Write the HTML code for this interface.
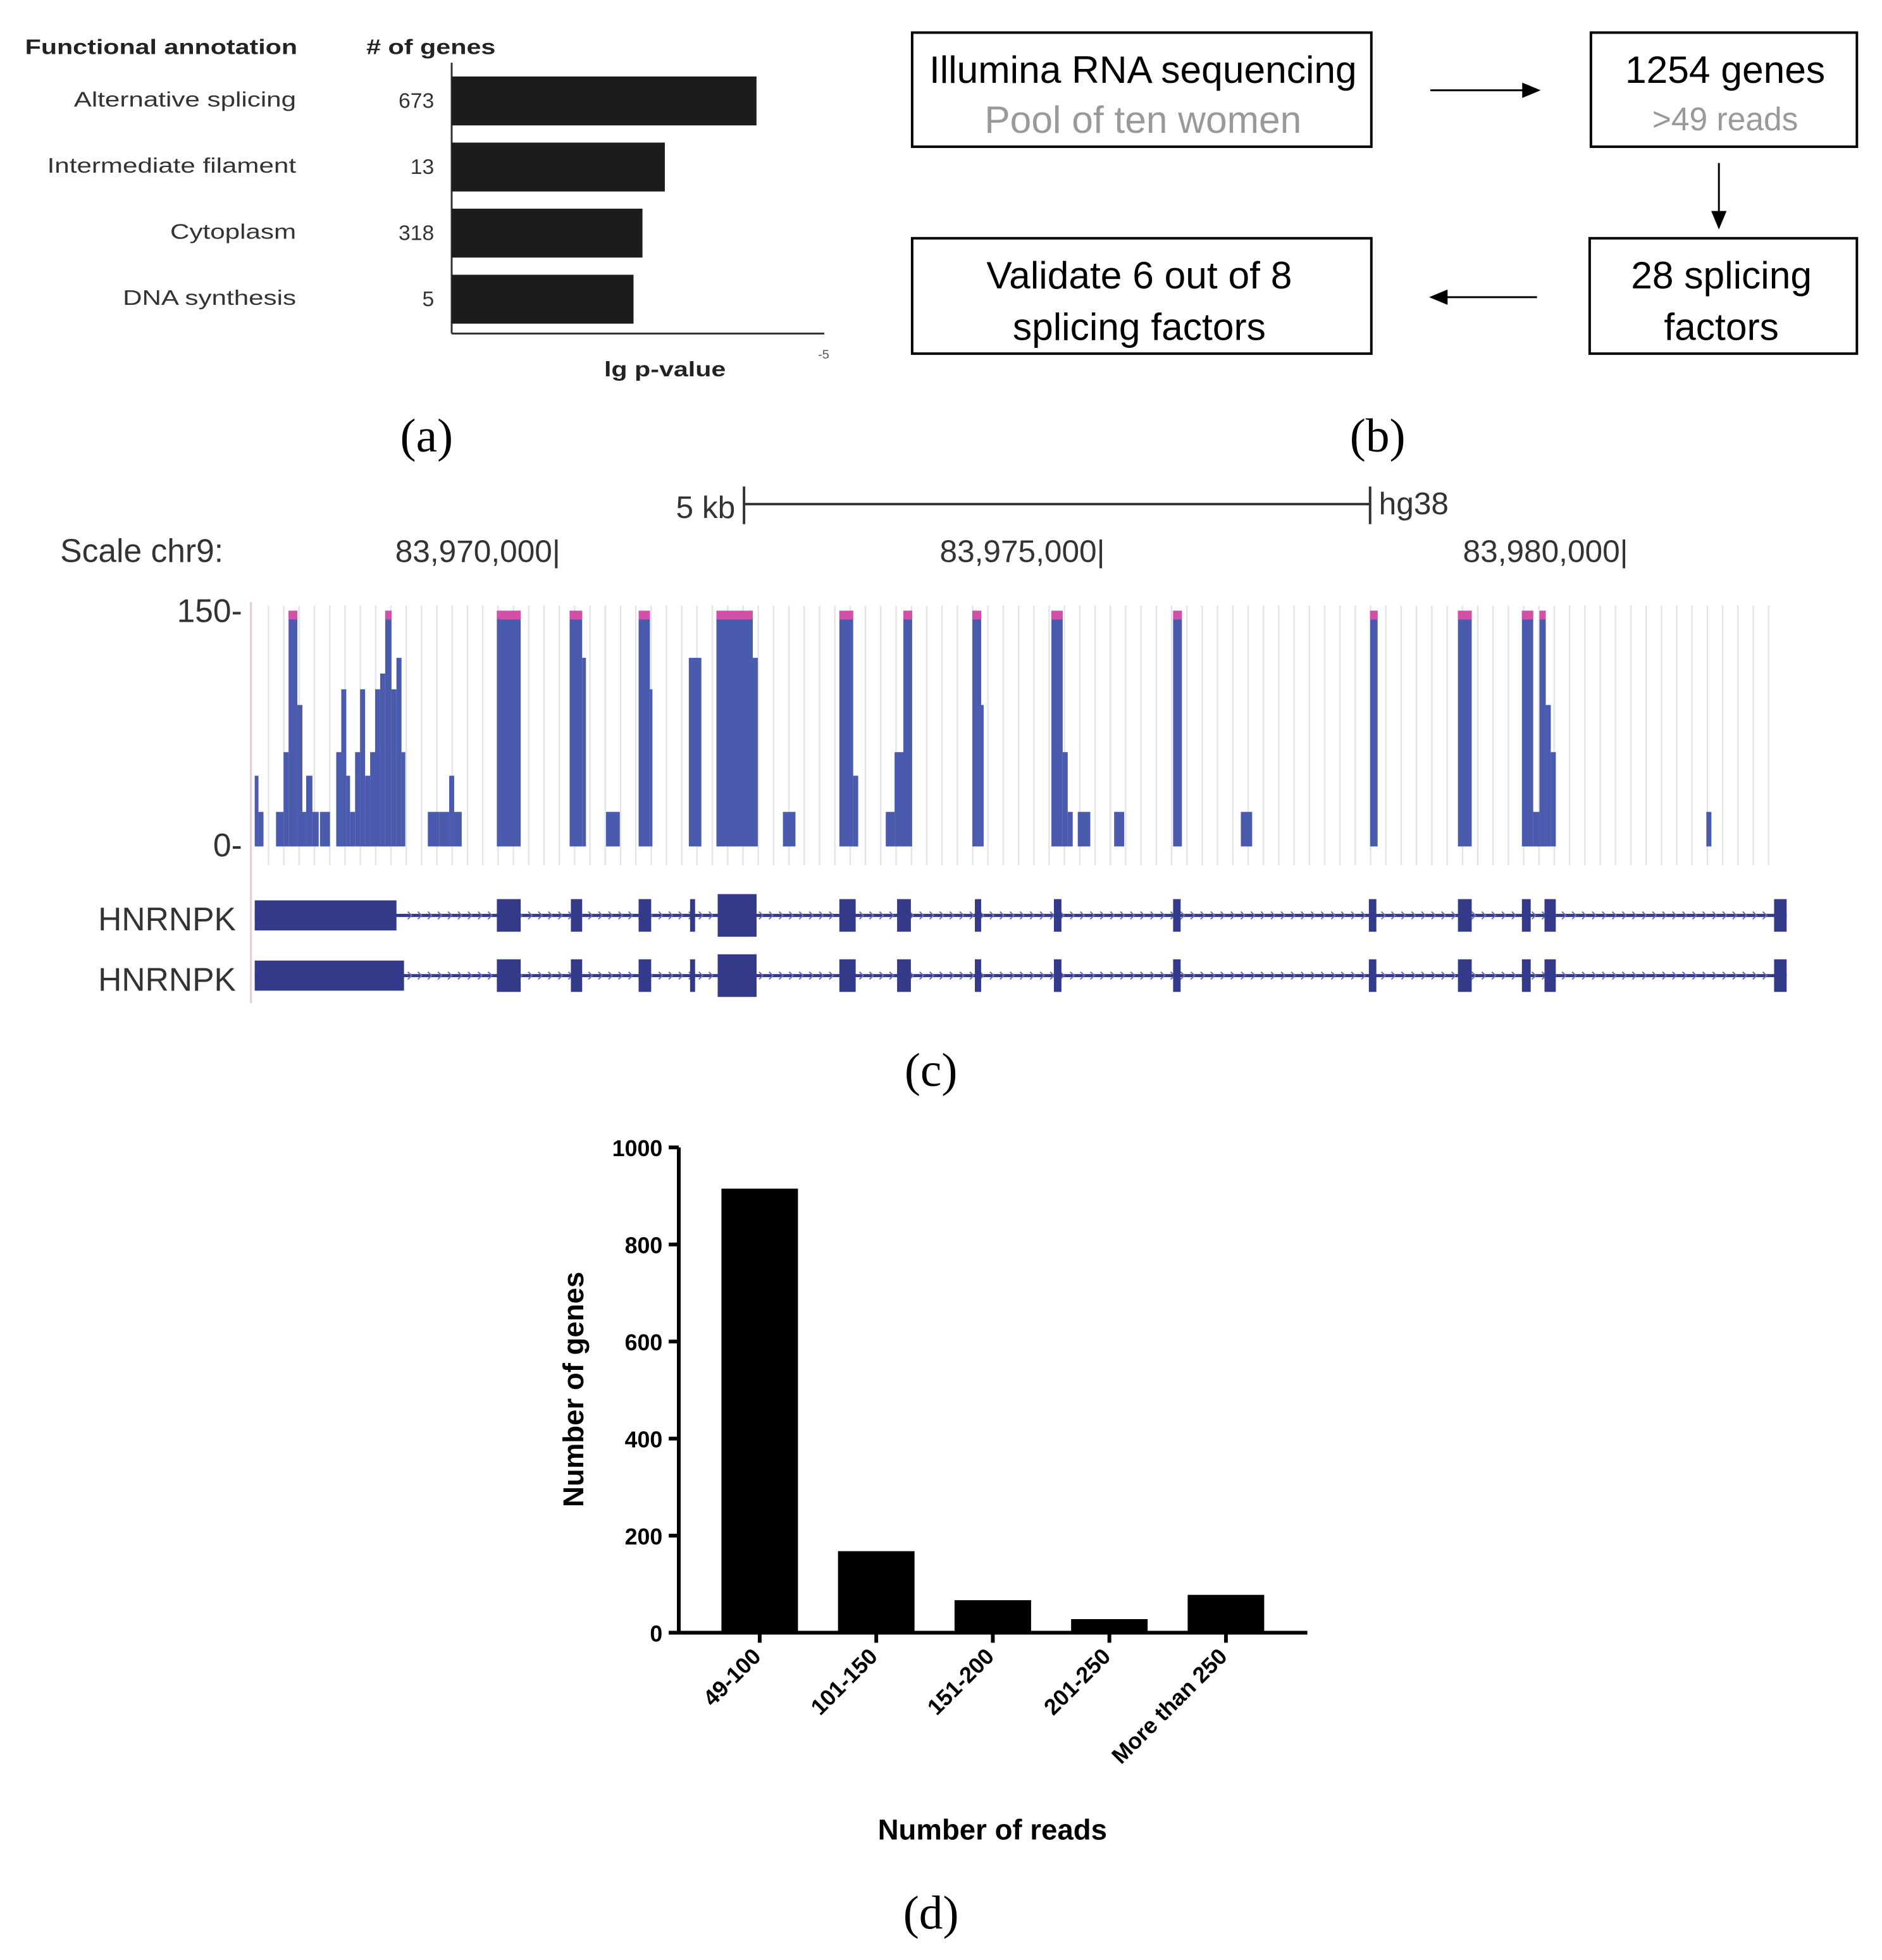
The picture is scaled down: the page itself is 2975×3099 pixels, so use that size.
<!DOCTYPE html>
<html><head><meta charset="utf-8"><style>
html,body{margin:0;padding:0;background:#fff}
svg{display:block}
text{font-family:"Liberation Sans",sans-serif}
.serif{font-family:"Liberation Serif",serif}
</style></head><body>
<svg id="fig" width="2975" height="3099" viewBox="0 0 1500 1563" preserveAspectRatio="none" xmlns="http://www.w3.org/2000/svg">
<g id="pa">
<text x="20" y="43" font-size="17" font-weight="bold" fill="#222" textLength="217" lengthAdjust="spacingAndGlyphs">Functional annotation</text>
<text x="292" y="43" font-size="17" font-weight="bold" fill="#222" textLength="103" lengthAdjust="spacingAndGlyphs"># of genes</text>
<line x1="360" y1="50" x2="360" y2="266" stroke="#333" stroke-width="1.5"/>
<line x1="360" y1="266" x2="657" y2="266" stroke="#333" stroke-width="1.5"/>
<text x="652" y="286" font-size="10" fill="#555">-5</text>
<text x="530" y="300" font-size="17" font-weight="bold" text-anchor="middle" fill="#222" textLength="97" lengthAdjust="spacingAndGlyphs">lg p-value</text>
</g>
<g id="pb">
<rect x="727" y="26" width="366" height="91" fill="none" stroke="#000" stroke-width="2"/>
<text x="911" y="66" font-size="30.5" text-anchor="middle">Illumina RNA sequencing</text>
<text x="911" y="106" font-size="30.5" text-anchor="middle" fill="#999">Pool of ten women</text>
<rect x="1268" y="26" width="212" height="91" fill="none" stroke="#000" stroke-width="2"/>
<text x="1375" y="66" font-size="30.5" text-anchor="middle">1254 genes</text>
<text x="1375" y="104" font-size="26" text-anchor="middle" fill="#999">&gt;49 reads</text>
<rect x="727" y="190" width="366" height="92" fill="none" stroke="#000" stroke-width="2"/>
<text x="908" y="230" font-size="30.5" text-anchor="middle">Validate 6 out of 8</text>
<text x="908" y="271" font-size="30.5" text-anchor="middle">splicing factors</text>
<rect x="1267" y="190" width="213" height="92" fill="none" stroke="#000" stroke-width="2"/>
<text x="1372" y="230" font-size="30.5" text-anchor="middle">28 splicing</text>
<text x="1372" y="271" font-size="30.5" text-anchor="middle">factors</text>
<g stroke="#000" stroke-width="1.5" fill="#000">
<line x1="1140" y1="72" x2="1215" y2="72"/><path d="M1226 72 L1214 67 L1214 77Z"/>
<line x1="1370" y1="130" x2="1370" y2="170"/><path d="M1370 181 L1365 169 L1375 169Z"/>
<line x1="1225" y1="237" x2="1152" y2="237"/><path d="M1141 237 L1153 232 L1153 242Z"/>
</g>
</g>
<text class="serif" x="340" y="360" font-size="38" text-anchor="middle">(a)</text>
<text class="serif" x="1098" y="360" font-size="38" text-anchor="middle">(b)</text>
<g id="pc">
<text x="586" y="413" font-size="25" text-anchor="end" fill="#333">5 kb</text>
<line x1="593" y1="402" x2="1092" y2="402" stroke="#333" stroke-width="2"/>
<line x1="593" y1="388" x2="593" y2="418" stroke="#333" stroke-width="2"/>
<line x1="1092" y1="388" x2="1092" y2="418" stroke="#333" stroke-width="2"/>
<text x="1099" y="410" font-size="25" fill="#333">hg38</text>
<text x="48" y="448" font-size="26" fill="#333">Scale chr9:</text>
<text x="315" y="448" font-size="25" fill="#333">83,970,000|</text>
<text x="749" y="448" font-size="25" fill="#333">83,975,000|</text>
<text x="1166" y="448" font-size="25" fill="#333">83,980,000|</text>
<text x="193" y="496" font-size="26" text-anchor="end" fill="#333">150-</text>
<text x="193" y="683" font-size="26" text-anchor="end" fill="#333">0-</text>
<line x1="200" y1="480" x2="200" y2="800" stroke="#f3c9c9" stroke-width="1.5"/>
<g id="grid"></g><g id="cov"></g>
<text x="188" y="742" font-size="26" text-anchor="end" fill="#333">HNRNPK</text>
<text x="188" y="790" font-size="26" text-anchor="end" fill="#333">HNRNPK</text>
<g id="genes"></g>
</g>
<text class="serif" x="742" y="866" font-size="38" text-anchor="middle">(c)</text>
<g id="pd">
<line x1="541" y1="915" x2="541" y2="1302" stroke="#000" stroke-width="3"/>
<line x1="533" y1="1302" x2="1042" y2="1302" stroke="#000" stroke-width="3"/>
<text x="465" y="1108" font-size="23" font-weight="bold" text-anchor="middle" transform="rotate(-90 465 1108)">Number of genes</text>
<text x="791" y="1467" font-size="23" font-weight="bold" text-anchor="middle">Number of reads</text>
</g>
<text class="serif" x="742" y="1538" font-size="38" text-anchor="middle">(d)</text>
</svg>
<script>
const NS="http://www.w3.org/2000/svg";
function mk(t,a,p){const e=document.createElementNS(NS,t);for(const k in a)e.setAttribute(k,a[k]);p.appendChild(e);return e;}
// Panel a data
const aCategories=["Alternative splicing","Intermediate filament","Cytoplasm","DNA synthesis"];
const aGeneCounts=[673,13,318,5];
const aLgP=[4.09,2.86,2.56,2.44];
// Panel d data
const dCategories=["49-100","101-150","151-200","201-250","More than 250"];
const dValues=[915,168,67,28,78];
const dTicks=[0,200,400,600,800,1000];
// Panel c coverage data: [startPos, endPos, depth] in track units
const covStart=[203,206,220,226,230,237,241,244,249,255,268,272,276,279,283,287,291,295,299,303,307,312,316,320,341,350,358,362,396,454,464,483,509,518,549,571,600,624,669,680,706,713,720,775,782,838,847,851,859,888,935,989,1092,1162,1213,1222,1227,1232,1236,1360];
const covEnd=[206,210,226,230,237,241,244,249,254,263,272,276,279,283,287,291,295,299,303,307,312,316,320,323,350,358,362,368,415,464,467,494,518,520,559,600,604,634,680,684,713,720,727,782,784,847,851,855,869,896,942,998,1098,1173,1222,1227,1232,1236,1240,1364];
const covDepth=[45,22,22,60,150,90,22,45,22,22,60,100,45,22,60,100,45,60,100,110,150,100,120,60,22,22,45,22,150,150,120,22,150,100,120,150,120,22,150,45,22,60,150,150,90,150,60,22,22,22,150,22,150,150,150,22,150,90,60,22];
const exonStart=[396,455,509,550,572,669,715,777,840,935,1091,1162,1213,1231,1414];
const exonEnd=[415,464,519,554,603,682,726,782,846,941,1097,1173,1220,1240,1424];

// Panel a
const pa=document.getElementById('pa');
const ax=v=>360+v/5*297;
aCategories.forEach((c,i)=>{
  const y=61+i*52.7;
  const t=mk('text',{x:236,y:y+24,'font-size':17,'text-anchor':'end',fill:'#333'},pa);t.textContent=c;
  
  
  const w=t.getComputedTextLength();
  if(w>0){t.setAttribute('textLength',w*1.25);t.setAttribute('lengthAdjust','spacingAndGlyphs');}
  const n=mk('text',{x:346,y:y+25,'font-size':17,'text-anchor':'end',fill:'#333'},pa);n.textContent=aGeneCounts[i];
  
  
  const r=mk('rect',{x:360,y:y,width:ax(aLgP[i])-360,height:39,fill:'#1c1c1c'},pa);
  
  
});
// Panel c grid
const grid=document.getElementById('grid');
for(let x=214;x<=1420;x+=12.2){mk('line',{x1:x,y1:483,x2:x,y2:690,stroke:'#e3e3ec','stroke-width':1.2},grid);}
const cov=document.getElementById('cov');
const cy=v=>675-v/150*188;
covStart.forEach((s,i)=>{
  const d=covDepth[i];
  const r=mk('rect',{x:s,y:cy(d),width:covEnd[i]-s,height:675-cy(d),fill:'#4a5aad'},cov);
  
  
  if(d>=150){const m=mk('rect',{x:s,y:cy(d),width:covEnd[i]-s,height:7,fill:'#d44fa8'},cov);
    
    }
});
// gene models
const genes=document.getElementById('genes');
[[730,316],[778,322]].forEach(([y,firstEnd])=>{
  const g=mk('g',{},genes);
  
  
  mk('line',{x1:203,y1:y,x2:1424,y2:y,stroke:'#343a8a','stroke-width':2.5},g);
  for(let x=325;x<1410;x+=8){mk('path',{d:`M${x} ${y-3} L${x+3} ${y} L${x} ${y+3}`,stroke:'#6a70b0','stroke-width':1,fill:'none'},g);}
  mk('rect',{x:203,y:y-12,width:firstEnd-203,height:24,fill:'#343a8a'},g);
  exonStart.forEach((s,i)=>{const h=(s===572)?34:26;mk('rect',{x:s,y:y-h/2,width:exonEnd[i]-s,height:h,fill:'#343a8a'},g);});
});
// Panel d
const pd=document.getElementById('pd');
const dy=v=>1302-v*0.387;
dTicks.forEach(t=>{
  mk('line',{x1:533,y1:dy(t),x2:541,y2:dy(t),stroke:'#000','stroke-width':3},pd);
  const l=mk('text',{x:528,y:dy(t)+7,'font-size':18,'font-weight':'bold','text-anchor':'end'},pd);l.textContent=t;
  
  
});
dCategories.forEach((c,i)=>{
  const cx=605.5+i*92.9;
  const r=mk('rect',{x:cx-30.5,y:dy(dValues[i]),width:61,height:1302-dy(dValues[i]),fill:'#000'},pd);
  
  
  mk('line',{x1:cx,y1:1302,x2:cx,y2:1310,stroke:'#000','stroke-width':3},pd);
  const t=mk('text',{x:cx+2,y:1322,'font-size':18,'font-weight':'bold','text-anchor':'end',transform:`rotate(-45 ${cx+2} 1322)`},pd);t.textContent=c;
  
  
});
</script>
</body></html>
